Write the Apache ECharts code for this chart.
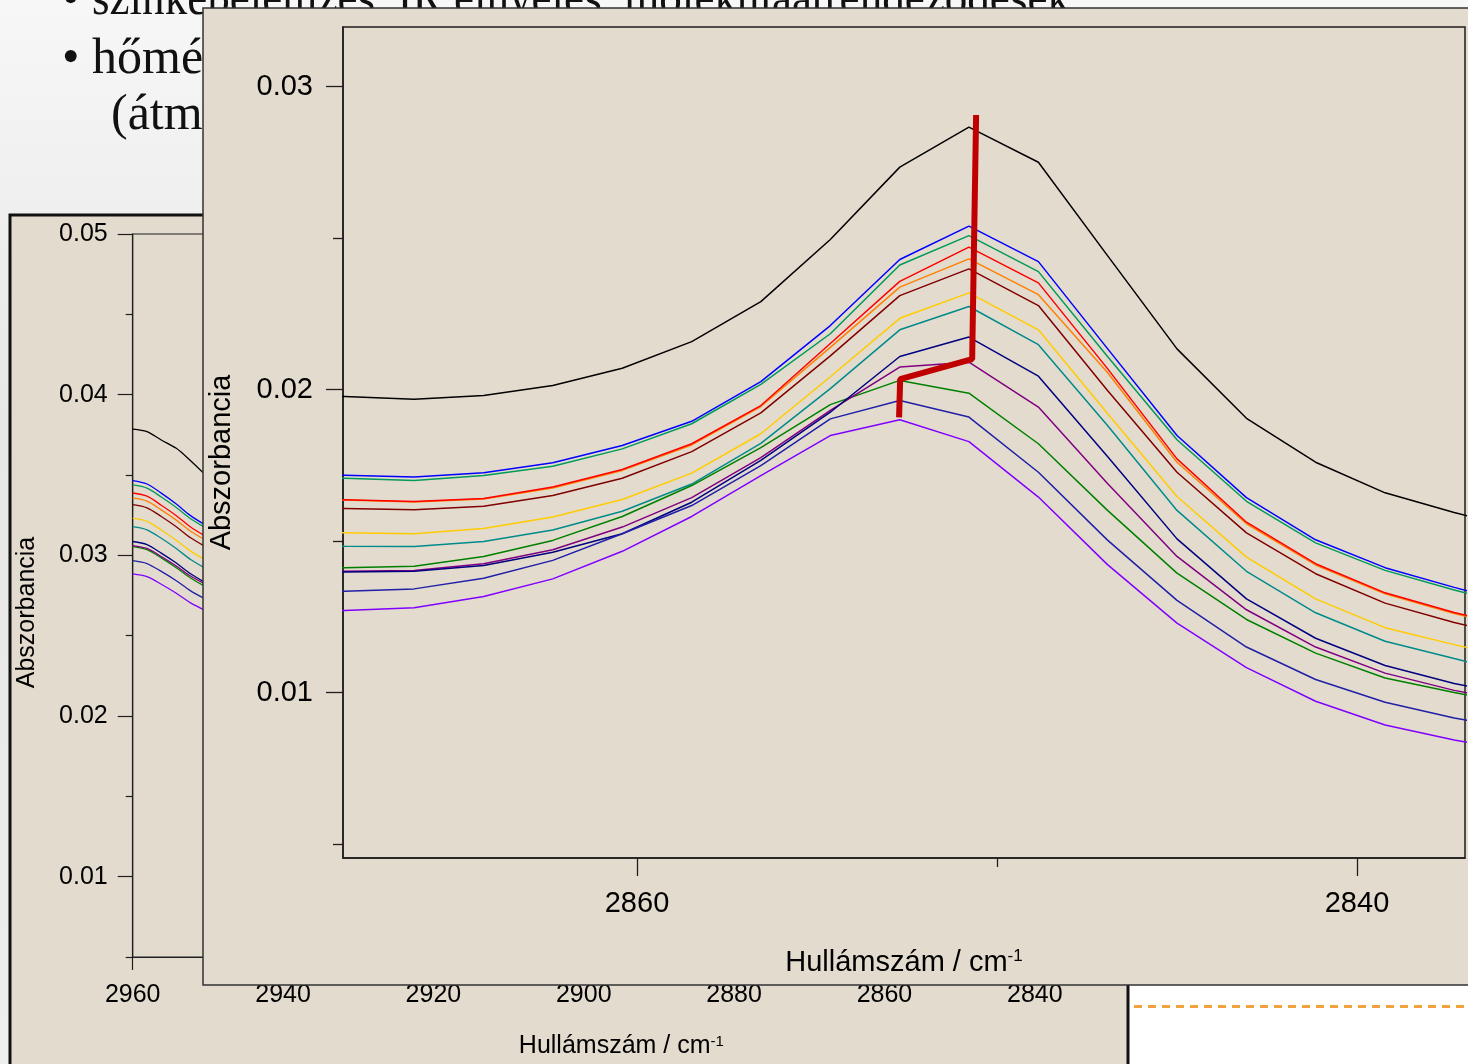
<!DOCTYPE html>
<html>
<head>
<meta charset="utf-8">
<title>Abszorbancia</title>
<script src="https://cdn.jsdelivr.net/npm/echarts@6/dist/echarts.min.js"></script>
<style>
    html, body { margin: 0; padding: 0; background: #fff; }
    #chart { width: 1468px; height: 1064px; }
</style>
</head>
<body>
<div id="chart"></div>
<script>
    // --- zoomed spectra (front panel), x = hullámszám / cm-1
    var wavenumbers = [2870.04, 2868.12, 2866.19, 2864.26, 2862.34, 2860.41, 2858.48, 2856.56, 2854.63, 2852.70,
        2850.78, 2848.85, 2846.93, 2845.00, 2843.07, 2841.15, 2839.22, 2837.30, 2835.37];

    var black    = [0.01985, 0.01977, 0.01968, 0.01980, 0.02013, 0.02070, 0.02158, 0.02290, 0.02495, 0.02734, 0.02866, 0.02750, 0.02442, 0.02134, 0.01905, 0.01760, 0.01659, 0.01594, 0.01535];
    var blue     = [0.01722, 0.01717, 0.01711, 0.01725, 0.01758, 0.01815, 0.01895, 0.02026, 0.02211, 0.02429, 0.02539, 0.02422, 0.02135, 0.01848, 0.01643, 0.01504, 0.01412, 0.01347, 0.01287];
    var seaGreen = [0.01712, 0.01707, 0.01700, 0.01716, 0.01747, 0.01804, 0.01887, 0.02017, 0.02184, 0.02411, 0.02508, 0.02389, 0.02109, 0.01834, 0.01631, 0.01494, 0.01403, 0.01338, 0.01281];
    var orange   = [0.01639, 0.01635, 0.01629, 0.01639, 0.01675, 0.01733, 0.01817, 0.01944, 0.02139, 0.02338, 0.02431, 0.02313, 0.02056, 0.01760, 0.01557, 0.01421, 0.01326, 0.01261, 0.01208];
    var red      = [0.01640, 0.01636, 0.01630, 0.01640, 0.01678, 0.01736, 0.01821, 0.01947, 0.02152, 0.02357, 0.02470, 0.02352, 0.02069, 0.01771, 0.01562, 0.01425, 0.01329, 0.01264, 0.01211];
    var darkRed  = [0.01611, 0.01607, 0.01603, 0.01615, 0.01650, 0.01707, 0.01795, 0.01923, 0.02111, 0.02310, 0.02398, 0.02277, 0.01997, 0.01727, 0.01527, 0.01392, 0.01295, 0.01231, 0.01178];
    var gold     = [0.01530, 0.01527, 0.01524, 0.01541, 0.01579, 0.01637, 0.01724, 0.01854, 0.02042, 0.02235, 0.02319, 0.02197, 0.01921, 0.01647, 0.01447, 0.01309, 0.01214, 0.01158, 0.01106];
    var teal     = [0.01485, 0.01483, 0.01482, 0.01498, 0.01536, 0.01598, 0.01688, 0.01822, 0.02003, 0.02197, 0.02274, 0.02148, 0.01881, 0.01601, 0.01400, 0.01263, 0.01169, 0.01112, 0.01056];
    var green    = [0.01415, 0.01412, 0.01417, 0.01449, 0.01502, 0.01581, 0.01683, 0.01808, 0.01950, 0.02030, 0.01988, 0.01821, 0.01601, 0.01394, 0.01241, 0.01130, 0.01048, 0.01000, 0.00954];
    var purple   = [0.01400, 0.01400, 0.01403, 0.01425, 0.01471, 0.01546, 0.01643, 0.01775, 0.01931, 0.02074, 0.02090, 0.01942, 0.01690, 0.01449, 0.01273, 0.01150, 0.01064, 0.01007, 0.00964];
    var navy     = [0.01398, 0.01398, 0.01400, 0.01419, 0.01463, 0.01524, 0.01628, 0.01766, 0.01925, 0.02109, 0.02173, 0.02044, 0.01779, 0.01507, 0.01309, 0.01179, 0.01089, 0.01030, 0.00984];
    var blue2    = [0.01330, 0.01334, 0.01342, 0.01377, 0.01436, 0.01524, 0.01617, 0.01749, 0.01903, 0.01964, 0.01909, 0.01727, 0.01503, 0.01304, 0.01150, 0.01043, 0.00968, 0.00916, 0.00875];
    var violet   = [0.01265, 0.01271, 0.01280, 0.01317, 0.01375, 0.01466, 0.01581, 0.01716, 0.01848, 0.01900, 0.01828, 0.01645, 0.01422, 0.01229, 0.01082, 0.00971, 0.00893, 0.00843, 0.00802];

    // thick red guide through the peak maxima
    var markerX = [2850.58, 2850.69, 2852.69, 2852.72];
    var markerY = [0.02906, 0.02100, 0.02034, 0.01908];

    // --- wide spectra (back panel), only the 2960..2950 part is visible
    var bgWavenumbers = [2960.0, 2958.1, 2956.2, 2954.2, 2952.3, 2950.4];
    var bgBlack    = [0.03786, 0.03770, 0.03718, 0.03666, 0.03589, 0.03504];
    var bgBlue     = [0.03465, 0.03444, 0.03387, 0.03319, 0.03247, 0.03190];
    var bgSeaGreen = [0.03438, 0.03418, 0.03363, 0.03298, 0.03228, 0.03174];
    var bgOrange   = [0.03357, 0.03337, 0.03283, 0.03219, 0.03150, 0.03097];
    var bgRed      = [0.03388, 0.03368, 0.03312, 0.03247, 0.03176, 0.03121];
    var bgDarkRed  = [0.03316, 0.03296, 0.03242, 0.03178, 0.03109, 0.03056];
    var bgGold     = [0.03231, 0.03211, 0.03158, 0.03094, 0.03026, 0.02973];
    var bgTeal     = [0.03179, 0.03159, 0.03106, 0.03042, 0.02974, 0.02921];
    var bgGreen    = [0.03054, 0.03035, 0.02984, 0.02923, 0.02859, 0.02807];
    var bgPurple   = [0.03061, 0.03043, 0.02993, 0.02934, 0.02871, 0.02822];
    var bgNavy     = [0.03086, 0.03067, 0.03014, 0.02952, 0.02885, 0.02832];
    var bgBlue2    = [0.02967, 0.02949, 0.02900, 0.02842, 0.02779, 0.02730];
    var bgViolet   = [0.02884, 0.02867, 0.02820, 0.02764, 0.02704, 0.02658];

    // tick labels
    var fgXTicks = [2860, 2840];
    var fgXMinor = [2850];
    var fgYTicks = [0.01, 0.02, 0.03];
    var fgYMinor = [0.005, 0.015, 0.025];
    var bgXTicks = [2960, 2940, 2920, 2900, 2880, 2860, 2840];
    var bgYTicks = [0.01, 0.02, 0.03, 0.04, 0.05];
    var bgYMinor = [0.005, 0.015, 0.025, 0.035, 0.045];

    var slideLines = ['szinképelemzés, IR elnyelés, molekulaátrendeződések', 'hőmérsékletfüggés', '(átmenetek vizsgálata)'];

    var spectra = [black, blue, seaGreen, orange, red, darkRed, gold, teal, green, purple, navy, blue2, violet];
    var bgSpectra = [bgBlack, bgBlue, bgSeaGreen, bgOrange, bgRed, bgDarkRed, bgGold, bgTeal, bgGreen, bgPurple, bgNavy, bgBlue2, bgViolet];
    var lineColors = ['#000000', '#0000ff', '#009a5a', '#ff8000', '#ff0000', '#800000', '#ffcc00', '#008b8b',
        '#008000', '#800080', '#000080', '#1f1fa8', '#8000ff'];

    var FONT = '"Liberation Sans", Arial, sans-serif';
    var PAPER = '#e3dbce';
    var INK = '#1e1e1e';

    function pairs(xs, ys) {
        return xs.map(function (x, i) { return [x, ys[i]]; });
    }

    function fmt2(v) { return v.toFixed(2); }
    function fmtInt(v) { return String(Math.round(v)); }

    // squeeze the first slide line to the width it has on the slide
    var ctx = document.createElement('canvas').getContext('2d');
    ctx.font = '50px "Liberation Serif"';
    var line1Scale = 978 / ctx.measureText(slideLines[0]).width;

    var chart = echarts.init(document.getElementById('chart'));

    var series = [];
    bgSpectra.forEach(function (ys, i) {
        series.push({
            type: 'line', xAxisIndex: 2, yAxisIndex: 2, z: 3,
            data: pairs(bgWavenumbers, ys),
            showSymbol: false, silent: true, smooth: 0.3,
            lineStyle: { color: lineColors[i], width: 1.3 }
        });
    });
    spectra.forEach(function (ys, i) {
        series.push({
            type: 'line', xAxisIndex: 0, yAxisIndex: 0, z: 6,
            data: pairs(wavenumbers, ys),
            showSymbol: false, silent: true,
            lineStyle: { color: lineColors[i], width: 1.5 }
        });
    });
    series.push({
        type: 'line', xAxisIndex: 0, yAxisIndex: 0, z: 7,
        data: pairs(markerX, markerY),
        showSymbol: false, silent: true,
        lineStyle: { color: '#c00000', width: 6 }
    });

    var supRich = function (size, sup) {
        return {
            t: { fontSize: size, fontFamily: FONT, color: '#000' },
            s: { fontSize: sup, fontFamily: FONT, color: '#000', verticalAlign: 'top' }
        };
    };

    chart.setOption({
        animation: false,
        textStyle: { fontFamily: FONT },
        grid: [
            { left: 343, top: 27, right: 3, bottom: 206, z: 5, show: true, borderColor: INK, borderWidth: 1.5,
              backgroundColor: 'transparent', outerBoundsMode: 'none' },
            { left: 132.7, top: 234, right: 358, bottom: 107, z: 2, show: true, borderColor: INK, borderWidth: 1.2,
              backgroundColor: 'transparent', outerBoundsMode: 'none' }
        ],
        xAxis: [
            {
                type: 'value', gridIndex: 0, inverse: true, min: 2837.0, max: 2868.1667, position: 'bottom', z: 5,
                axisLine: { show: true, lineStyle: { color: INK, width: 1.5 } },
                axisTick: { show: true, length: 18, customValues: fgXTicks, lineStyle: { color: INK, width: 1.3 } },
                axisLabel: { customValues: fgXTicks, formatter: fmtInt, margin: 31, fontSize: 29, color: '#000', fontFamily: FONT },
                splitLine: { show: false },
                name: '{t|Hullámszám / cm}{s|-1}', nameLocation: 'middle', nameGap: 90,
                nameTextStyle: { rich: supRich(29, 17) }
            },
            {
                type: 'value', gridIndex: 0, inverse: true, min: 2837.0, max: 2868.1667, position: 'bottom', z: 5,
                axisLine: { show: false },
                axisTick: { show: true, length: 9, customValues: fgXMinor, lineStyle: { color: INK, width: 1.3 } },
                axisLabel: { show: false },
                splitLine: { show: false }
            },
            {
                type: 'value', gridIndex: 1, inverse: true, min: 2830, max: 2960, position: 'bottom', z: 2,
                axisLine: { show: true, lineStyle: { color: INK, width: 1.2 } },
                axisTick: { show: true, length: 13, customValues: bgXTicks, lineStyle: { color: INK, width: 1.2 } },
                axisLabel: { customValues: bgXTicks, formatter: fmtInt, margin: 26, fontSize: 25, color: '#000', fontFamily: FONT },
                splitLine: { show: false },
                name: '{t|Hullámszám / cm}{s|-1}', nameLocation: 'middle', nameGap: 77,
                nameTextStyle: { rich: supRich(25, 15) }
            }
        ],
        yAxis: [
            {
                type: 'value', gridIndex: 0, min: 0.004538, max: 0.031964, position: 'left', z: 5,
                axisLine: { show: true, lineStyle: { color: INK, width: 1.5 } },
                axisTick: { show: true, length: 17, customValues: fgYTicks, lineStyle: { color: INK, width: 1.3 } },
                axisLabel: { customValues: fgYTicks, formatter: fmt2, margin: 30, fontSize: 29, color: '#000', fontFamily: FONT },
                splitLine: { show: false },
                name: 'Abszorbancia', nameLocation: 'middle', nameRotate: 90, nameGap: 107,
                nameTextStyle: { fontSize: 29, color: '#000', fontFamily: FONT, padding: [0, 40, 0, 0] }
            },
            {
                type: 'value', gridIndex: 0, min: 0.004538, max: 0.031964, position: 'left', z: 5,
                axisLine: { show: false },
                axisTick: { show: true, length: 10, customValues: fgYMinor, lineStyle: { color: INK, width: 1.3 } },
                axisLabel: { show: false },
                splitLine: { show: false }
            },
            {
                type: 'value', gridIndex: 1, min: 0.005, max: 0.05, position: 'left', z: 2,
                axisLine: { show: true, lineStyle: { color: INK, width: 1.2 } },
                axisTick: { show: true, length: 15, customValues: bgYTicks, lineStyle: { color: INK, width: 1.2 } },
                axisLabel: { customValues: bgYTicks, formatter: fmt2, margin: 25, fontSize: 25, color: '#000', fontFamily: FONT },
                splitLine: { show: false },
                name: 'Abszorbancia', nameLocation: 'middle', nameRotate: 90, nameGap: 93,
                nameTextStyle: { fontSize: 25, color: '#000', fontFamily: FONT, padding: [0, 34, 0, 0] }
            },
            {
                type: 'value', gridIndex: 1, min: 0.005, max: 0.05, position: 'left', z: 2,
                axisLine: { show: false },
                axisTick: { show: true, length: 7, customValues: bgYMinor, lineStyle: { color: INK, width: 1.2 } },
                axisLabel: { show: false },
                splitLine: { show: false }
            }
        ],
        graphic: [
            // slide background
            {
                type: 'rect', z: 0, silent: true,
                shape: { x: 0, y: 0, width: 1468, height: 1064 },
                style: {
                    fill: new echarts.graphic.LinearGradient(0, 0, 0, 1, [
                        { offset: 0, color: '#f7f7f7' },
                        { offset: 0.4, color: '#e7e7e7' },
                        { offset: 1, color: '#eeeeee' }
                    ])
                }
            },
            // slide text (mostly covered by the pictures)
            { type: 'text', z: 1, silent: true, style: { text: '•', x: 62, y: 1, font: '50px "Liberation Serif"', fill: '#111', verticalAlign: 'middle' } },
            { type: 'text', z: 1, silent: true, x: 92, scaleX: line1Scale,
              style: { text: slideLines[0], x: 0, y: 1, font: '50px "Liberation Serif"', fill: '#111', verticalAlign: 'middle' } },
            { type: 'text', z: 1, silent: true, style: { text: '•', x: 62, y: 60, font: '50px "Liberation Serif"', fill: '#111', verticalAlign: 'middle' } },
            { type: 'text', z: 1, silent: true, style: { text: slideLines[1], x: 92, y: 60, font: '50px "Liberation Serif"', fill: '#111', verticalAlign: 'middle' } },
            { type: 'text', z: 1, silent: true, style: { text: slideLines[2], x: 111, y: 116, font: '50px "Liberation Serif"', fill: '#111', verticalAlign: 'middle' } },
            // white slide area bottom right with dashed line
            { type: 'rect', z: 1, silent: true, shape: { x: 1128, y: 985, width: 340, height: 79 }, style: { fill: '#ffffff' } },
            { type: 'line', z: 1, silent: true, shape: { x1: 1134, y1: 1006.5, x2: 1468, y2: 1006.5 },
              style: { stroke: '#f2a23c', lineWidth: 3, lineDash: [8, 6] } },
            // back picture
            { type: 'rect', z: 1, silent: true, shape: { x: 10, y: 215, width: 1118, height: 900 },
              style: { fill: PAPER, stroke: '#111', lineWidth: 3 } },
            // front picture
            { type: 'rect', z: 4, silent: true, shape: { x: 203, y: 8, width: 1300, height: 977 },
              style: { fill: PAPER, stroke: '#333', lineWidth: 1.5 } }
        ],
        series: series
    });
</script>
</body>
</html>
